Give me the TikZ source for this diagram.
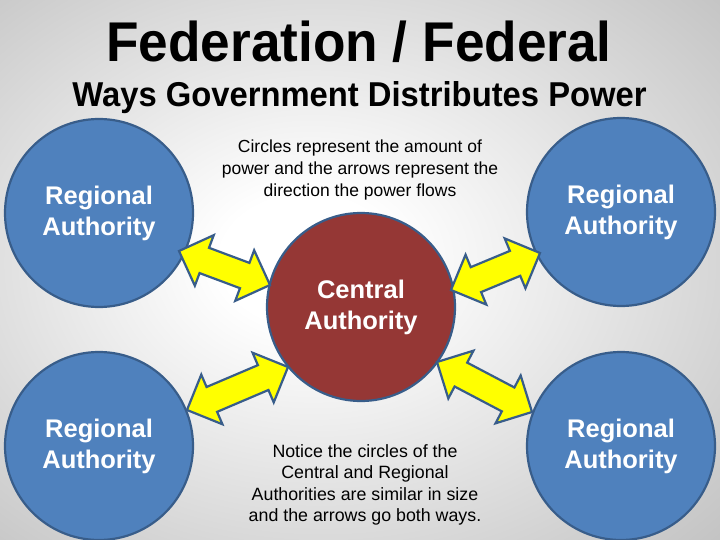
\documentclass[tikz,border=0pt]{standalone}
\usepackage{fontspec}
\setmainfont{Liberation Sans}
\newfontfamily\titlefont[FakeStretch=0.95]{Liberation Sans}
\usetikzlibrary{calc}
\definecolor{regblue}{HTML}{4F81BD}
\definecolor{edgeblue}{HTML}{385D8A}
\definecolor{centred}{HTML}{953735}
\definecolor{arrowyellow}{HTML}{FFFF00}
\pgfdeclareradialshading{bgshade}{\pgfpoint{-4bp}{1bp}}{color(0bp)=(white); color(6bp)=(white); color(50bp)=(black!33); color(72bp)=(black!48)}
\tikzset{
  authority/.style={circle, draw=edgeblue, line width=2.2pt, minimum size=188pt, inner sep=0pt,
    text=white, align=center, font=\fontsize{25.5}{31}\selectfont\bfseries},
  regional/.style={authority, fill=regblue},
  central/.style={authority, fill=centred},
  blockarrow/.style={draw=edgeblue, line width=2.2pt, fill=arrowyellow, line join=miter},
  notetext/.style={align=center, text=black},
}
\newcommand{\blockarr}[2]{%
  \draw[blockarrow] (#1)
    -- ($(#1)!27pt!(#2)!27pt!90:(#2)$)
    -- ($(#1)!27pt!(#2)!13.5pt!90:(#2)$)
    -- ($(#2)!27pt!(#1)!13.5pt!-90:(#1)$)
    -- ($(#2)!27pt!(#1)!27pt!-90:(#1)$)
    -- (#2)
    -- ($(#2)!27pt!(#1)!27pt!90:(#1)$)
    -- ($(#2)!27pt!(#1)!13.5pt!90:(#1)$)
    -- ($(#1)!27pt!(#2)!13.5pt!-90:(#2)$)
    -- ($(#1)!27pt!(#2)!27pt!-90:(#2)$)
    -- cycle;}
\begin{document}
\begin{tikzpicture}[x=1pt,y=-1pt]
\useasboundingbox (0,0) rectangle (720,540);
\shade[shading=bgshade] (0,0) rectangle (720,540);

\node[anchor=base, font=\titlefont\bfseries\fontsize{56}{62}\selectfont] (title) at (359,62) {Federation / Federal};
\node[anchor=base, font=\titlefont\bfseries\fontsize{34.5}{40}\selectfont] (subtitle) at (359.5,107) {Ways Government Distributes Power};

\node[regional] (rtl) at (99,213) {Regional\\Authority};
\node[regional] (rtr) at (621,212) {Regional\\Authority};
\node[regional] (rbl) at (99,446) {Regional\\Authority};
\node[regional] (rbr) at (621,446) {Regional\\Authority};
\node[central] (cen) at (361,307) {Central\\Authority};

\node[notetext, font=\fontsize{17.5}{22}\selectfont] (note1) at (360,170)
  {Circles represent the amount of\\power and the arrows represent the\\direction the power flows};
\node[notetext, font=\fontsize{17.8}{21.5}\selectfont] (note2) at (365,485)
  {Notice the circles of the\\Central and Regional\\Authorities are similar in size\\and the arrows go both ways.};

\coordinate (a1) at (179,251);
\coordinate (b1) at (270,285);
\coordinate (a2) at (451,290);
\coordinate (b2) at (540,253);
\coordinate (a3) at (187,410);
\coordinate (b3) at (288,367);
\coordinate (a4) at (437,362);
\coordinate (b4) at (532,412);
\blockarr{a1}{b1}
\blockarr{a2}{b2}
\blockarr{a3}{b3}
\blockarr{a4}{b4}
\end{tikzpicture}
\end{document}
